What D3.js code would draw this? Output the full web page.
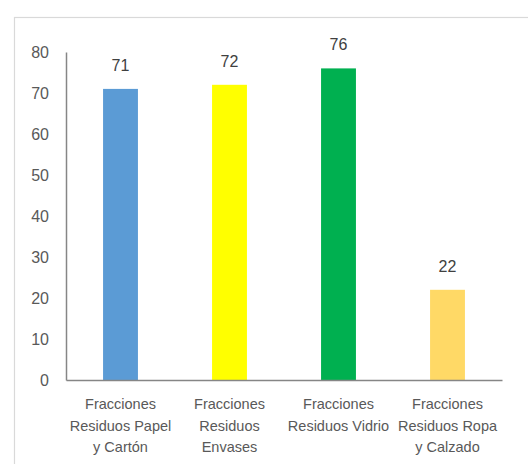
<!DOCTYPE html>
<html><head><meta charset="utf-8">
<script src="https://cdn.jsdelivr.net/npm/d3@7"></script>
<style>body{margin:0;background:#fff}svg{display:block}</style>
</head><body>
<script>
const categories = [
  ["Fracciones","Residuos Papel","y Cartón"],
  ["Fracciones","Residuos","Envases"],
  ["Fracciones","Residuos Vidrio"],
  ["Fracciones","Residuos Ropa","y Calzado"]
];
const values = [71, 72, 76, 22];
const colors = ["#5B9BD5", "#FFFF00", "#00B050", "#FFD966"];
const yTicks = [0,10,20,30,40,50,60,70,80];

const W = 528, H = 464;
const svg = d3.select("body").append("svg").attr("width", W).attr("height", H);
svg.append("rect").attr("x",14.5).attr("y",17.5).attr("width",540).attr("height",480)
  .attr("fill","#fff").attr("stroke","#D9D9D9").attr("stroke-width",1.2);

const x = d3.scaleBand().domain(d3.range(values.length)).range([66, 502]).paddingInner(0.68).paddingOuter(0.34);
const y = d3.scaleLinear().domain([0, 80]).range([380, 52]);

svg.selectAll("rect.bar").data(values).join("rect").attr("class","bar")
  .attr("x",(d,i)=>x(i)).attr("width",x.bandwidth())
  .attr("y",d=>y(d)).attr("height",d=>y(0)-y(d))
  .attr("fill",(d,i)=>colors[i]);

svg.selectAll("text.val").data(values).join("text").attr("class","val")
  .attr("x",(d,i)=>x(i)+x.bandwidth()/2).attr("y",d=>y(d)-18)
  .attr("text-anchor","middle").attr("font-family","Liberation Sans, Arial, sans-serif")
  .attr("font-size",16).attr("fill","#404040").text(d=>d);

// y axis
const yAxis = d3.axisLeft(y).tickValues(yTicks).tickSize(0).tickPadding(17);
const gy = svg.append("g").attr("transform","translate(66,0)").call(yAxis);
gy.select(".domain").attr("stroke","#868686").attr("stroke-width",1.5);
gy.selectAll("text").attr("font-family","Liberation Sans, Arial, sans-serif").attr("font-size",16).attr("fill","#595959");

// x axis
const gx = svg.append("g").attr("transform","translate(0,380)")
  .call(d3.axisBottom(x).tickSize(0).tickFormat(""));
gx.select(".domain").attr("stroke","#868686").attr("stroke-width",1.5);
gx.selectAll(".tick text").remove();
gx.selectAll(".tick").each(function(d){
  const t = d3.select(this).append("text").attr("text-anchor","middle")
    .attr("font-family","Liberation Sans, Arial, sans-serif").attr("font-size",14.5).attr("fill","#595959");
  categories[d].forEach((line,k)=>{
    t.append("tspan").attr("x",0).attr("y",29+k*21.5).text(line);
  });
});
</script>
</body></html>
